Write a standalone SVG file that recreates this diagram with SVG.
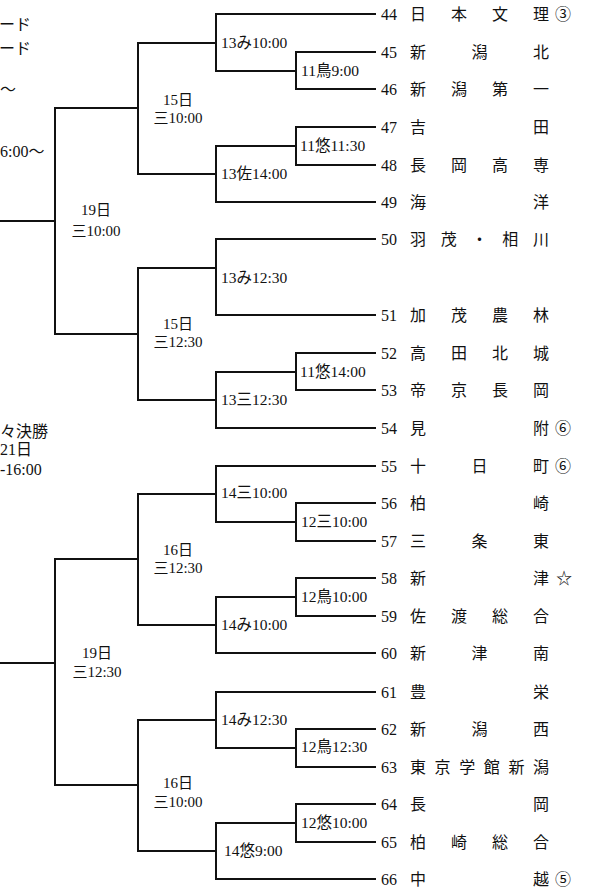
<svg xmlns="http://www.w3.org/2000/svg" width="599" height="895" viewBox="0 0 599 895">
<style>
text{font-family:"Liberation Serif","Noto Sans CJK JP",serif;font-size:16px;fill:#111}
.lbl{font-size:15.5px}
.rd{font-size:15px;text-anchor:middle}
.ln{fill:none;stroke:#111;stroke-width:2;stroke-linecap:square}
</style>
<rect width="599" height="895" fill="#fff"/>
<g id="connectors" class="ln">
<path d="M216,14H375M296,52H375M296,89H375M296,52V89M216,71H296M216,14V71M138,43H216"/>
<path d="M296,127H375M296,165H375M296,127V165M216,146H296M216,202H375M216,146V202M138,174H216"/>
<path d="M138,43V174M55,108H138"/>
<path d="M216,239H375M216,315H375M216,239V315M138,268H216"/>
<path d="M296,353H375M296,390H375M296,353V390M216,372H296M216,428H375M216,372V428M138,400H216"/>
<path d="M138,268V400M55,334H138M55,108V334M0,221H55"/>
<path d="M216,466H375M296,503H375M296,541H375M296,503V541M216,522H296M216,466V522M138,494H216"/>
<path d="M296,578H375M296,616H375M296,578V616M216,597H296M216,653H375M216,597V653M138,625H216"/>
<path d="M138,494V625M55,559H138"/>
<path d="M216,692H375M296,729H375M296,767H375M296,729V767M216,748H296M216,692V748M138,720H216"/>
<path d="M296,804H375M296,842H375M296,804V842M216,823H296M216,879H375M216,823V879M138,851H216"/>
<path d="M138,720V851M55,785H138M55,559V785M0,663H55"/>
</g>
<g id="side-notes">
<text x="-1" y="30">ード</text>
<text x="-1" y="54">ード</text>
<text x="0" y="95">～</text>
<text x="0" y="157">6:00～</text>
<text x="0" y="437">々決勝</text>
<text x="0" y="455">21日</text>
<text x="0" y="475">-16:00</text>
</g>
<g id="rounds">
<g id="r15a"><text class="rd" x="178" y="105">15日</text><text class="rd" x="178" y="123">三10:00</text></g>
<g id="r15b"><text class="rd" x="178" y="329">15日</text><text class="rd" x="178" y="347">三12:30</text></g>
<g id="r16a"><text class="rd" x="178" y="555">16日</text><text class="rd" x="178" y="573">三12:30</text></g>
<g id="r16b"><text class="rd" x="178" y="788">16日</text><text class="rd" x="178" y="807">三10:00</text></g>
<g id="r19a"><text class="rd" x="96" y="215">19日</text><text class="rd" x="96" y="236">三10:00</text></g>
<g id="r19b"><text class="rd" x="97" y="658">19日</text><text class="rd" x="97" y="677">三12:30</text></g>
</g>
<g id="matches">
<text class="lbl" x="221" y="48">13み10:00</text>
<text class="lbl" x="301" y="76">11鳥9:00</text>
<text class="lbl" x="300" y="151">11悠11:30</text>
<text class="lbl" x="221" y="179">13佐14:00</text>
<text class="lbl" x="221" y="283">13み12:30</text>
<text class="lbl" x="300" y="377">11悠14:00</text>
<text class="lbl" x="221" y="405">13三12:30</text>
<text class="lbl" x="221" y="498">14三10:00</text>
<text class="lbl" x="301" y="527">12三10:00</text>
<text class="lbl" x="301" y="602">12鳥10:00</text>
<text class="lbl" x="221" y="630">14み10:00</text>
<text class="lbl" x="221" y="725">14み12:30</text>
<text class="lbl" x="301" y="752">12鳥12:30</text>
<text class="lbl" x="301" y="828">12悠10:00</text>
<text class="lbl" x="224" y="856">14悠9:00</text>
</g>
<g id="teams">
<g id="t44"><text x="381" y="20">44</text><text x="410 451 492 533" y="20">日本文理</text><text x="555" y="20">③</text></g>
<g id="t45"><text x="381" y="58">45</text><text x="410 471.5 533" y="58">新潟北</text></g>
<g id="t46"><text x="381" y="95">46</text><text x="410 451 492 533" y="95">新潟第一</text></g>
<g id="t47"><text x="381" y="133">47</text><text x="410 533" y="133">吉田</text></g>
<g id="t48"><text x="381" y="171">48</text><text x="410 451 492 533" y="171">長岡高専</text></g>
<g id="t49"><text x="381" y="208">49</text><text x="410 533" y="208">海洋</text></g>
<g id="t50"><text x="381" y="245">50</text><text x="410 440.75 471.5 502.25 533" y="245">羽茂・相川</text></g>
<g id="t51"><text x="381" y="321">51</text><text x="410 451 492 533" y="321">加茂農林</text></g>
<g id="t52"><text x="381" y="359">52</text><text x="410 451 492 533" y="359">高田北城</text></g>
<g id="t53"><text x="381" y="396">53</text><text x="410 451 492 533" y="396">帝京長岡</text></g>
<g id="t54"><text x="381" y="434">54</text><text x="410 533" y="434">見附</text><text x="555" y="434">⑥</text></g>
<g id="t55"><text x="381" y="472">55</text><text x="410 471.5 533" y="472">十日町</text><text x="555" y="472">⑥</text></g>
<g id="t56"><text x="381" y="509">56</text><text x="410 533" y="509">柏崎</text></g>
<g id="t57"><text x="381" y="547">57</text><text x="410 471.5 533" y="547">三条東</text></g>
<g id="t58"><text x="381" y="584">58</text><text x="410 533" y="584">新津</text><text x="556" y="584">☆</text></g>
<g id="t59"><text x="381" y="622">59</text><text x="410 451 492 533" y="622">佐渡総合</text></g>
<g id="t60"><text x="381" y="659">60</text><text x="410 471.5 533" y="659">新津南</text></g>
<g id="t61"><text x="381" y="698">61</text><text x="410 533" y="698">豊栄</text></g>
<g id="t62"><text x="381" y="735">62</text><text x="410 471.5 533" y="735">新潟西</text></g>
<g id="t63"><text x="381" y="773">63</text><text x="410 434.6 459.2 483.8 508.4 533" y="773">東京学館新潟</text></g>
<g id="t64"><text x="381" y="810">64</text><text x="410 533" y="810">長岡</text></g>
<g id="t65"><text x="381" y="848">65</text><text x="410 451 492 533" y="848">柏崎総合</text></g>
<g id="t66"><text x="381" y="885">66</text><text x="410 533" y="885">中越</text><text x="555" y="885">⑤</text></g>
</g>
</svg>
